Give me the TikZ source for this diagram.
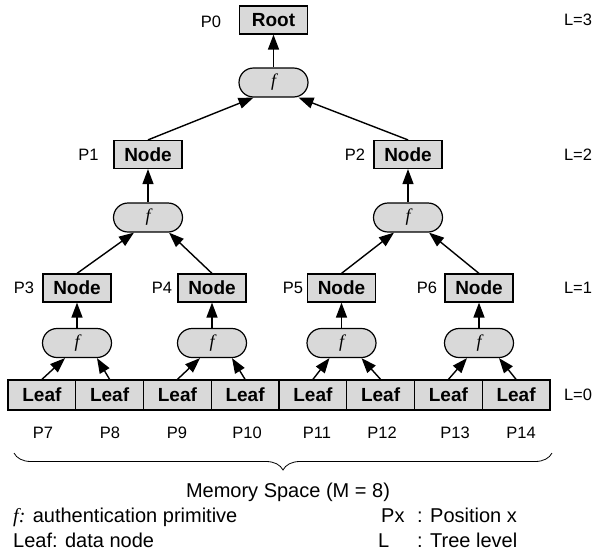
\documentclass[tikz,border=0pt]{standalone}
\usepackage{fontspec}
\setmainfont{Liberation Sans}
\newfontfamily\fnserif{Liberation Serif}
\usetikzlibrary{shapes.misc,arrows.meta,decorations.pathreplacing}

\tikzset{
	block/.style={draw,line width=1.2pt,fill=gray!30,inner sep=0pt,minimum width=68pt,minimum height=28pt,font=\fontsize{19}{19}\selectfont\bfseries},
	leaf/.style={block,minimum width=67.75pt,minimum height=30pt},
	func/.style={draw,line width=1.2pt,fill=gray!30,rounded rectangle,inner sep=0pt,minimum width=69pt,minimum height=29pt,font=\fnserif\itshape\fontsize{18}{18}\selectfont},
	lbl/.style={inner sep=0pt,font=\fontsize{16.5}{16.5}\selectfont},
	legend/.style={inner sep=0pt,anchor=base west,font=\fontsize{20}{20}\selectfont},
	arr/.style={line width=1.4pt,-{Triangle[length=15pt,width=11pt]}}
}

\begin{document}
\begin{tikzpicture}[x=1pt,y=-1pt]
		\useasboundingbox (0,0) rectangle (597,552);
		
		\begin{scope}[every node/.style={block}]
			\node (root) at (273.5,20) {Root};
			\node (n1) at (148,154.5) {Node};
			\node (n2) at (408,154.5) {Node};
			\node (n3) at (77,288) {Node};
			\node (n4) at (212,288) {Node};
			\node (n5) at (341.5,288) {Node};
			\node (n6) at (479,288) {Node};
		\end{scope}
		
		\begin{scope}[every node/.style={func}]
			\node (fr) at (273.5,82.5) {f};
			\node (f1) at (148,217.5) {f};
			\node (f2) at (408,217.5) {f};
			\node (f3) at (77,343) {f};
			\node (f4) at (212,343) {f};
			\node (f5) at (341.5,343) {f};
			\node (f6) at (479,343) {f};
		\end{scope}
		
		\begin{scope}[every node/.style={leaf}]
			\node (l7) at (41.9,395) {Leaf};
			\node (l8) at (109.6,395) {Leaf};
			\node (l9) at (177.4,395) {Leaf};
			\node (l10) at (245.1,395) {Leaf};
			\node (l11) at (312.9,395) {Leaf};
			\node (l12) at (380.6,395) {Leaf};
			\node (l13) at (448.4,395) {Leaf};
			\node (l14) at (516.1,395) {Leaf};
		\end{scope}
		
		\begin{scope}[every node/.style={lbl}]
			\node (p0) at (211,22) {P0};
			\node (p1) at (88.5,154.5) {P1};
			\node (p2) at (355,154.5) {P2};
			\node (p3) at (24,288) {P3};
			\node (p4) at (162,288) {P4};
			\node (p5) at (293,288) {P5};
			\node (p6) at (427,288) {P6};
			\node (p7) at (43,433) {P7};
			\node (p8) at (110,433) {P8};
			\node (p9) at (177,433) {P9};
			\node (p10) at (247,433) {P10};
			\node (p11) at (317,433) {P11};
			\node (p12) at (382,433) {P12};
			\node (p13) at (455,433) {P13};
			\node (p14) at (521,433) {P14};
			\node (lv3) at (578,20) {L=3};
			\node (lv2) at (578,154.5) {L=2};
			\node (lv1) at (578,288) {L=1};
			\node (lv0) at (578,395) {L=0};
		\end{scope}
		
		\begin{scope}[every path/.style={arr}]
			\draw (fr.north) -- (root.south);
			\draw (n1.north) -- ([xshift=-20pt]fr.south);
			\draw (n2.north) -- ([xshift=25pt]fr.south);
			\draw (f1.north) -- (n1.south);
			\draw (f2.north) -- (n2.south);
			\draw (n3.north) -- ([xshift=-14pt]f1.south);
			\draw (n4.north) -- ([xshift=21pt]f1.south);
			\draw (n5.north) -- ([xshift=-14pt]f2.south);
			\draw (n6.north) -- ([xshift=21pt]f2.south);
			\draw (f3.north) -- (n3.south);
			\draw (f4.north) -- (n4.south);
			\draw (f5.north) -- (n5.south);
			\draw (f6.north) -- (n6.south);
			\draw (l7.north) -- ([xshift=-12pt]f3.south);
			\draw (l8.north) -- ([xshift=20pt]f3.south);
			\draw (l9.north) -- ([xshift=-12pt]f4.south);
			\draw (l10.north) -- ([xshift=20pt]f4.south);
			\draw (l11.north) -- ([xshift=-12pt]f5.south);
			\draw (l12.north) -- ([xshift=20pt]f5.south);
			\draw (l13.north) -- ([xshift=-12pt]f6.south);
			\draw (l14.north) -- ([xshift=20pt]f6.south);
		\end{scope}
		
		% memory space brace and legend
		\coordinate (bl) at (14,453);
		\coordinate (br) at (552,453);
		\draw[line width=0.8pt,decorate,decoration={brace,mirror,amplitude=17pt}] (bl) -- (br);
		\node[legend,anchor=base] (mem) at (288,497) {Memory Space (M = 8)};
		\node[legend] (lgf) at (13,522) {{\fnserif\itshape f:} authentication primitive};
		\node[legend] (lgleaf) at (13,547) {Leaf: data node};
		\node[legend] (lgpx) at (381,522) {Px};
		\node[legend] (lgpos) at (417,522) {: Position x};
		\node[legend] (lgl) at (378,547) {L};
		\node[legend] (lglvl) at (417,547) {: Tree level};
	\end{tikzpicture}
\end{document}
